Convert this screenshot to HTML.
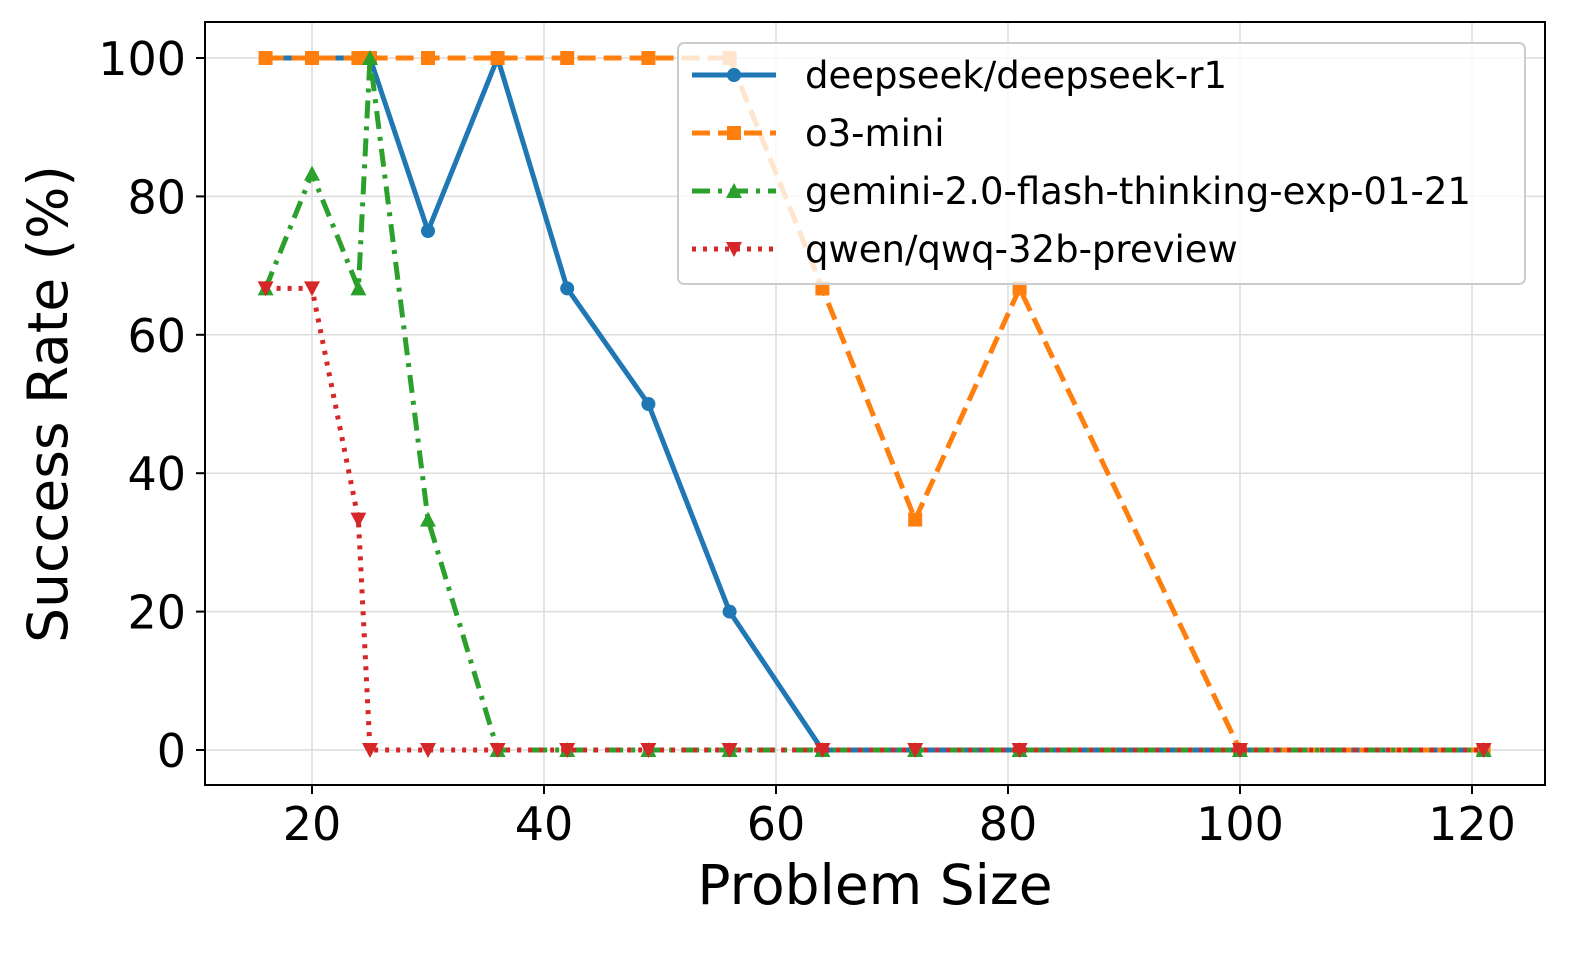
<!DOCTYPE html>
<html><head><meta charset="utf-8"><style>
html,body{margin:0;padding:0;background:#fff;}
svg{display:block;font-family:"DejaVu Sans","Liberation Sans",sans-serif;}
</style></head><body>
<svg id="s" width="1594" height="957" viewBox="0 0 1594 957" xmlns="http://www.w3.org/2000/svg"></svg>
<script>
const s=document.getElementById('s');
const X=v=>312+(v-20)*11.6, Y=v=>750-v*6.92;
let h='';
for(const t of [20,40,60,80,100,120]) h+=`<line x1="${X(t)}" y1="22" x2="${X(t)}" y2="785" stroke="#dcdcdc" stroke-width="1.5"/>`;
for(const t of [0,20,40,60,80,100]) h+=`<line x1="205" y1="${Y(t)}" x2="1545" y2="${Y(t)}" stroke="#dcdcdc" stroke-width="1.5"/>`;
const xs=[16,20,24,25,30,36,42,49,56,64,72,81,100,121];
const series=[
 {c:'#1f77b4',d:'',m:'o',y:[100,100,100,100,75,100,66.7,50,20,0,0,0,0,0]},
 {c:'#ff7f0e',d:'18,8',m:'s',y:[100,100,100,100,100,100,100,100,100,66.7,33.3,66.7,0,0]},
 {c:'#2ca02c',d:'18,8,4,8',m:'^',y:[66.7,83.3,66.7,100,33.3,0,0,0,0,0,0,0,0,0]},
 {c:'#d62728',d:'4,7',m:'v',y:[66.7,66.7,33.3,0,0,0,0,0,0,0,0,0,0,0]}];
function mk(m,x,y,c){
 if(m=='o')return `<circle cx="${x}" cy="${y}" r="7" fill="${c}"/>`;
 if(m=='s')return `<rect x="${x-7}" y="${y-7}" width="14" height="14" fill="${c}"/>`;
 if(m=='^')return `<polygon points="${x},${y-8} ${x-8},${y+7} ${x+8},${y+7}" fill="${c}"/>`;
 return `<polygon points="${x},${y+8} ${x-8},${y-7} ${x+8},${y-7}" fill="${c}"/>`;
}
for(const se of series){
 const pts=xs.map((x,i)=>X(x)+','+Y(se.y[i])).join(' ');
 h+=`<polyline points="${pts}" fill="none" stroke="${se.c}" stroke-width="5" ${se.d?`stroke-dasharray="${se.d}"`:''} stroke-linejoin="round"/>`;
 xs.forEach((x,i)=>h+=mk(se.m,X(x),Y(se.y[i]),se.c));
}
h+=`<rect x="205" y="22" width="1340" height="763" fill="none" stroke="#000" stroke-width="2"/>`;
for(const t of [20,40,60,80,100,120]){h+=`<line x1="${X(t)}" y1="785" x2="${X(t)}" y2="794" stroke="#000" stroke-width="2"/><text x="${X(t)}" y="840" font-size="46" text-anchor="middle">${t}</text>`;}
for(const t of [0,20,40,60,80,100]){h+=`<line x1="196" y1="${Y(t)}" x2="205" y2="${Y(t)}" stroke="#000" stroke-width="2"/><text x="186" y="${Y(t)+17}" font-size="46" text-anchor="end">${t}</text>`;}
h+=`<text x="875" y="904" font-size="55" text-anchor="middle">Problem Size</text>`;
h+=`<text transform="translate(67,404) rotate(-90)" font-size="55" text-anchor="middle">Success Rate (%)</text>`;
h+=`<rect x="678" y="43" width="847" height="241" rx="6" fill="#fff" fill-opacity="0.8" stroke="#ccc" stroke-width="2"/>`;
const names=['deepseek/deepseek-r1','o3-mini','gemini-2.0-flash-thinking-exp-01-21','qwen/qwq-32b-preview'];
series.forEach((se,i)=>{const y=75+i*58;
 h+=`<line x1="692" y1="${y}" x2="776" y2="${y}" stroke="${se.c}" stroke-width="5" ${se.d?`stroke-dasharray="${se.d}"`:''}/>`+mk(se.m,734,y,se.c);
 h+=`<text x="805" y="${y+13}" font-size="37">${names[i]}</text>`;});
s.innerHTML=h;
</script>
</body></html>
